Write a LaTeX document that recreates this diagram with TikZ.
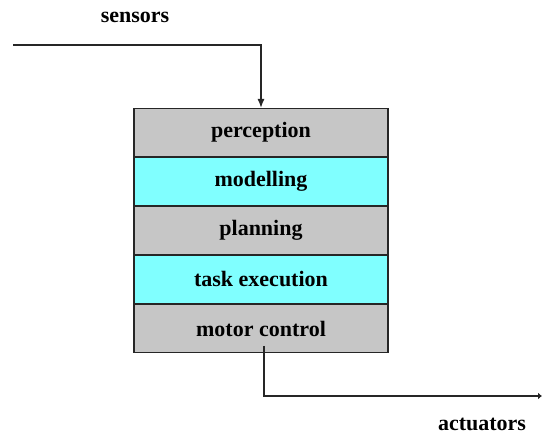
\documentclass[tikz,border=0pt]{standalone}
\usepackage{fontspec}
\setmainfont{Liberation Serif}
\usetikzlibrary{arrows.meta,positioning}
\definecolor{layergray}{HTML}{C6C6C6}
\definecolor{layercyan}{HTML}{80FFFF}
\tikzset{
  layer/.style={draw=black!85, line width=1.4pt, minimum width=254pt, minimum height=47.6pt,
    inner sep=0pt, font=\bfseries\fontsize{22}{24}\selectfont, anchor=north},
  grey layer/.style={layer, fill=layergray},
  cyan layer/.style={layer, fill=layercyan},
  flow/.style={draw=black!85, line width=1.4pt},
  label/.style={font=\bfseries\fontsize{22}{24}\selectfont, inner sep=0pt},
}
\begin{document}
\begin{tikzpicture}[x=1pt,y=-1pt]
  \useasboundingbox (0,0) rectangle (542,435);
  % layered stack
  \node[grey layer] (perc) at (261,108) {perception};
  \node[cyan layer] (model) at (perc.south) {modelling};
  \node[grey layer] (plan) at (model.south) {planning};
  \node[cyan layer] (task) at (plan.south) {task execution};
  \node[grey layer] (motor) at (task.south) {motor control};
  % sensor input
  \coordinate (sin) at (13,45);
  \draw[flow,-{Latex[length=9pt,width=7pt]}] (sin) -| (perc.north);
  \node[label] (sens) at (135,17) {sensors};
  % actuator output
  \coordinate (aout) at (542,396);
  \coordinate (mout) at (264,346);
  \draw[flow,-{Latex[length=4pt,width=7pt]}] (mout) |- (aout);
  \node[label] (act) at (482,424) {actuators};
\end{tikzpicture}
\end{document}
